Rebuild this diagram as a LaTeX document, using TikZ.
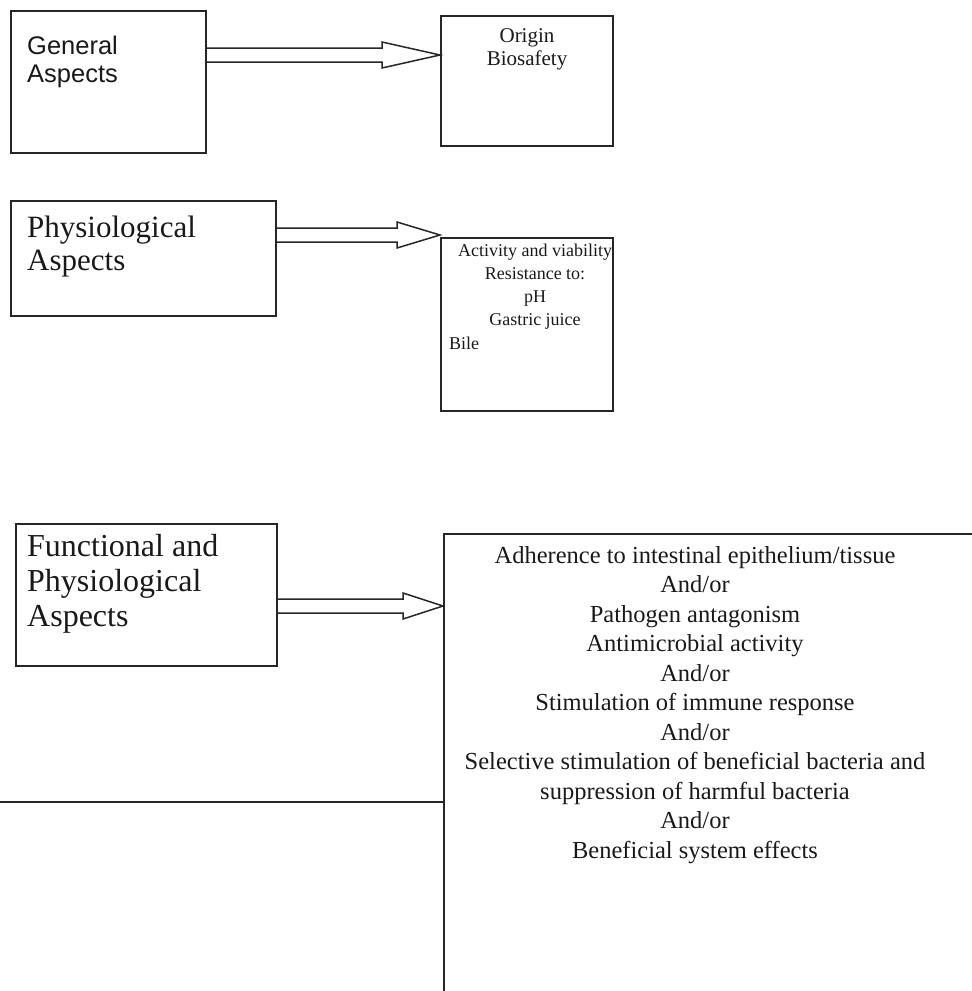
\documentclass[tikz,border=0pt]{standalone}
\usepackage{fontspec}
\setmainfont{Liberation Serif}
\newfontfamily\sansf{Liberation Sans}
\usetikzlibrary{calc}
\tikzset{
  boxline/.style={draw=black!85, line width=1.7pt},
  panel/.style={boxline, rectangle, inner sep=0pt},
  arrowline/.style={draw=black!85, line width=1.5pt, line join=miter},
  txt/.style={inner sep=0pt, text=black!90},
}
\newcommand{\hollowarr}[4]{% start, tip, head length, shaft half
  \draw[arrowline] let \p1=(#1), \p2=(#2) in
    (\x1,\y2+#4) -- (\x2-#3,\y2+#4) -- (\x2-#3,\y2+13pt) -- (\x2,\y2)
    -- (\x2-#3,\y2-13pt) -- (\x2-#3,\y2-#4) -- (\x1,\y2-#4);}
\begin{document}
\begin{tikzpicture}[x=1pt,y=-1pt]
\useasboundingbox (0,0) rectangle (972,991);
\clip (0,0) rectangle (972,991);
% boxes
\node[panel, minimum width=195pt, minimum height=142pt, anchor=north west] (gen) at (10,10) {};
\node[panel, minimum width=172pt, minimum height=130pt, anchor=north west] (orig) at (440,15) {};
\node[panel, minimum width=265pt, minimum height=115pt, anchor=north west] (phys) at (10,200) {};
\node[panel, minimum width=172pt, minimum height=173pt, anchor=north west] (act) at (440,237) {};
\node[panel, minimum width=261pt, minimum height=142pt, anchor=north west] (func) at (15,523) {};
\node[panel, minimum width=560pt, minimum height=500pt, anchor=north west] (big) at (443,533) {};
% texts
\node[txt, anchor=north west, align=left, font=\sansf\fontsize{25.5}{28}\selectfont] (gent) at (27,36) {General\\Aspects};
\node[txt, anchor=north, align=center, font=\fontsize{21}{23.5}\selectfont] (origt) at (527,28) {Origin\\Biosafety};
\node[txt, anchor=north west, align=left, font=\fontsize{31}{33}\selectfont] (physt) at (27,216) {Physiological\\Aspects};
\node[txt, anchor=north, align=center, font=\fontsize{18}{23}\selectfont] (actt) at (535,244) {Activity and viability\\Resistance to:\\pH\\Gastric juice};
\node[txt, anchor=north west, font=\fontsize{18}{23}\selectfont] (bile) at (449,337) {Bile};
\node[txt, anchor=north west, align=left, font=\fontsize{32}{35}\selectfont] (funct) at (27,534) {Functional and\\Physiological\\Aspects};
\node[txt, anchor=north, align=center, font=\fontsize{24.5}{29.5}\selectfont] (bigt) at (695,546) {Adherence to intestinal epithelium/tissue\\And/or\\Pathogen antagonism\\Antimicrobial activity\\And/or\\Stimulation of immune response\\And/or\\Selective stimulation of beneficial bacteria and\\suppression of harmful bacteria\\And/or\\Beneficial system effects};
% arrows
\coordinate (a1s) at (gen.east |- 0,55);
\coordinate (a1t) at (orig.west |- 0,55);
\hollowarr{a1s}{a1t}{58pt}{7pt}
\coordinate (a2s) at (phys.east |- 0,235);
\coordinate (a2t) at (act.west |- 0,235);
\hollowarr{a2s}{a2t}{43pt}{7pt}
\coordinate (a3s) at (func.east |- 0,606);
\coordinate (a3t) at (big.west |- 0,606);
\hollowarr{a3s}{a3t}{40pt}{7pt}
% side line
\coordinate (lineend) at (0,802);
\draw[boxline] (lineend) -- (big.west |- lineend);
\end{tikzpicture}
\end{document}
